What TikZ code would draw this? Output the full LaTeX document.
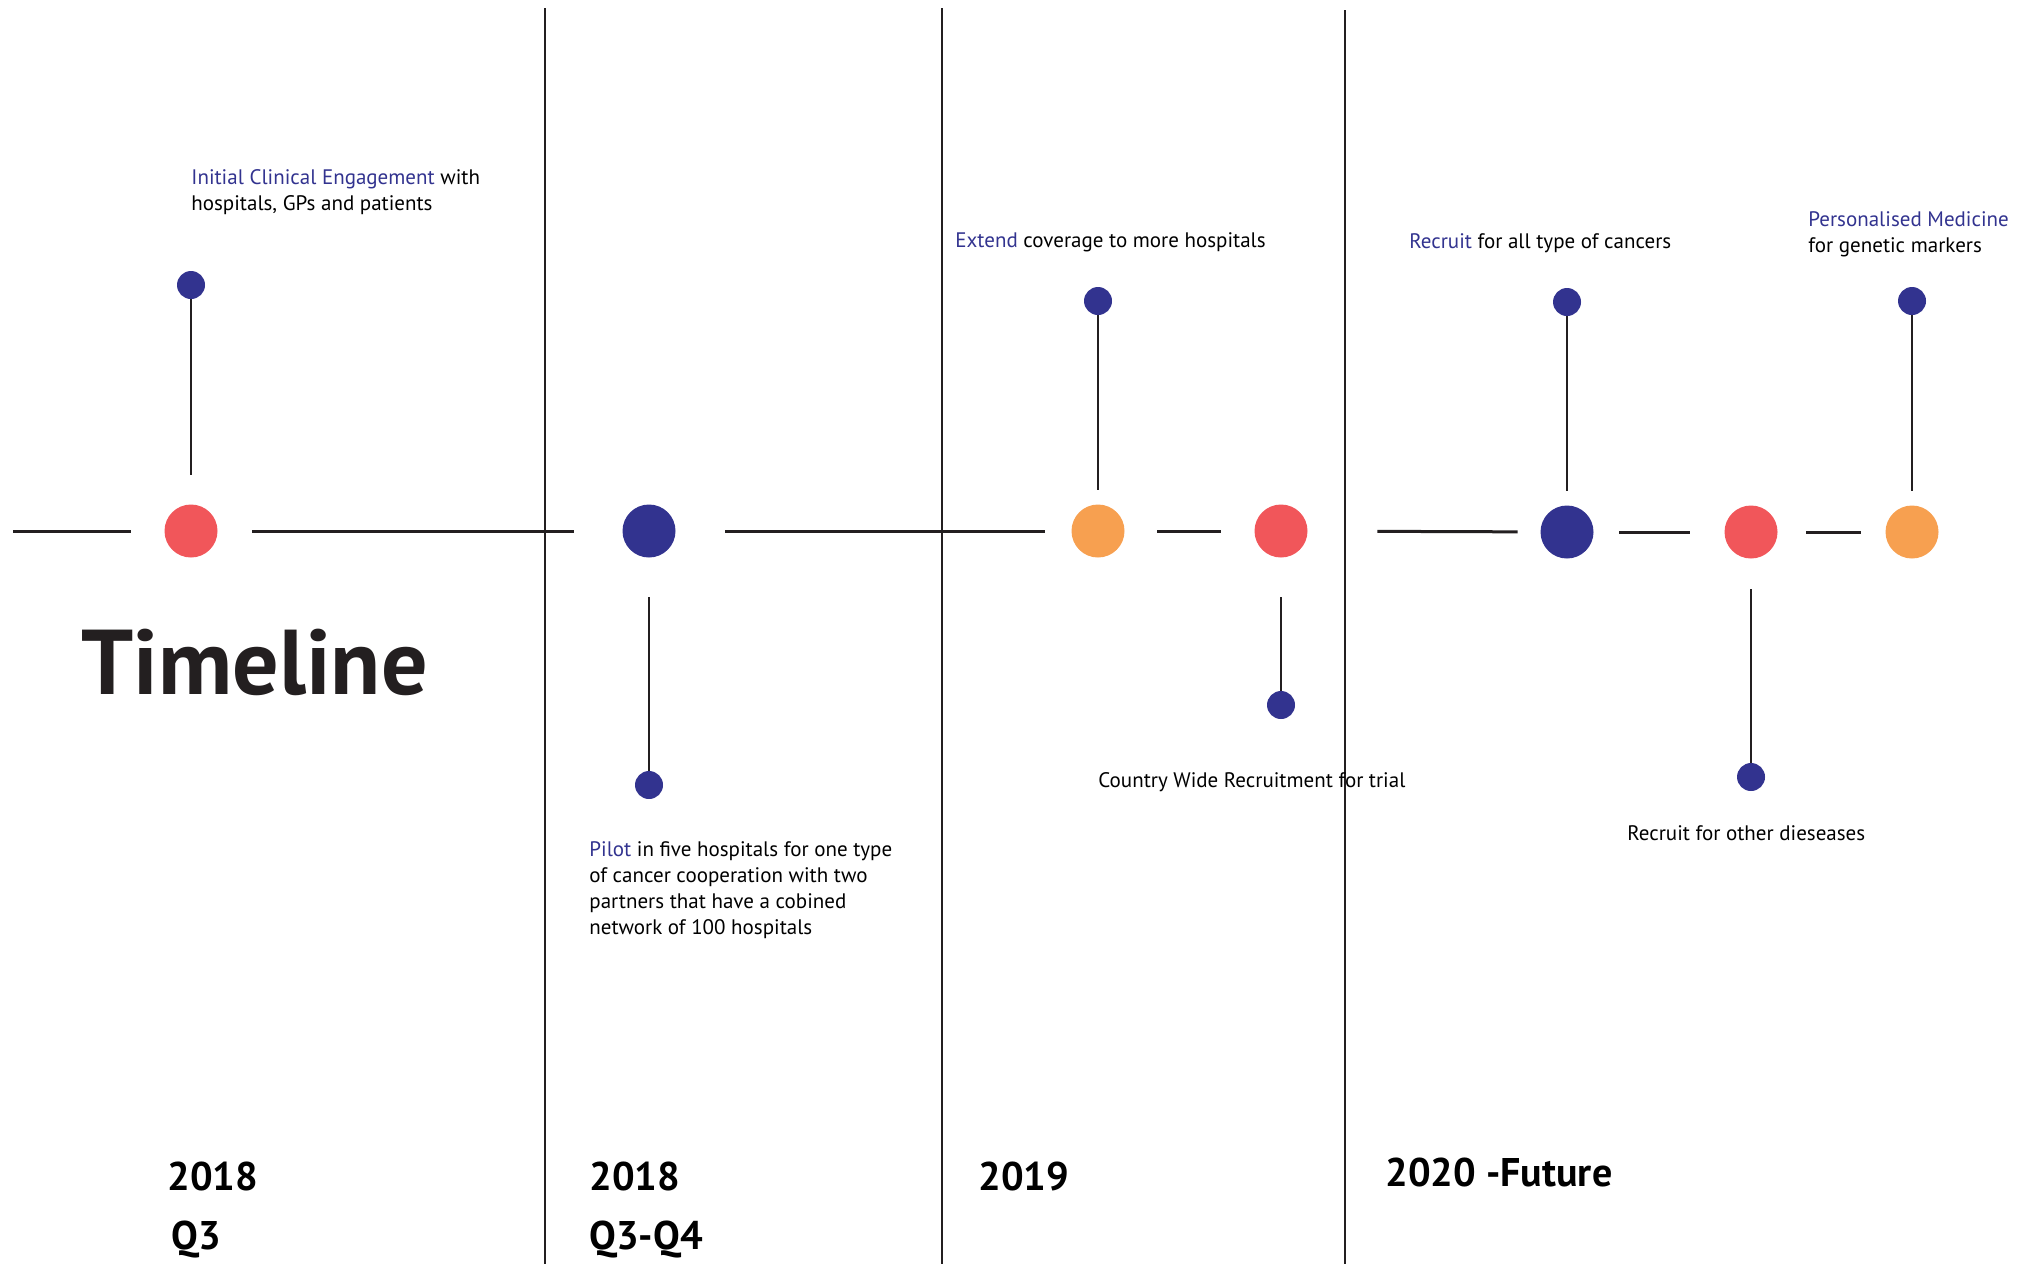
\documentclass[tikz,border=0pt]{standalone}
\usepackage{fontspec}
\setmainfont{PT Sans}
\usepackage{tikz}
\definecolor{tlblue}{RGB}{50,51,143}
\definecolor{tlred}{RGB}{241,86,90}
\definecolor{tlorange}{RGB}{247,160,80}
\definecolor{tlline}{RGB}{35,31,32}

\begin{document}
\begin{tikzpicture}[x=0.5pt, y=-0.5pt,
    main/.style={circle, inner sep=0pt, minimum size=26.5pt},
    dot/.style={circle, inner sep=0pt, minimum size=14pt, fill=tlblue},
    txt/.style={anchor=base west, inner sep=0pt, align=left, font=\fontsize{10.5}{13}\selectfont},
    year/.style={anchor=base west, inner sep=0pt, font=\fontsize{20}{24}\selectfont\bfseries},
    link/.style={draw=tlline, line width=1.5pt},
    stem/.style={draw=tlline, line width=1pt}]
  \useasboundingbox (0,0) rectangle (2027,1264);
  \draw [tlline, line width=1.3pt] (545,8) -- (545,1264);
  \draw [tlline, line width=1.3pt] (942,8) -- (942,1264);
  \draw [tlline, line width=1.3pt] (1345,10) -- (1345,1264);
  \coordinate (s) at (13,531);
  \node [main, fill=tlred] (m1) at (191,531) {};
  \node [main, fill=tlblue] (m2) at (649,531) {};
  \node [main, fill=tlorange] (m3) at (1098,531) {};
  \node [main, fill=tlred] (m4) at (1281,531) {};
  \node [main, fill=tlblue] (m5) at (1567,532) {};
  \node [main, fill=tlred] (m6) at (1751,532) {};
  \node [main, fill=tlorange] (m7) at (1912,532) {};
  \node [dot] (d1) at (191,285) {};
  \node [dot] (d2) at (649,785) {};
  \node [dot] (d3) at (1098,301) {};
  \node [dot] (d4) at (1281,705) {};
  \node [dot] (d5) at (1567,302) {};
  \node [dot] (d6) at (1751,777) {};
  \node [dot] (d7) at (1912,301) {};
  \draw [link, shorten >=16.75pt] (s) -- (m1);
  \draw [link, shorten <=17.25pt, shorten >=24.25pt] (m1) -- (m2);
  \draw [link, shorten <=24.75pt, shorten >=13.25pt] (m2) -- (m3);
  \draw [link, shorten <=16.25pt, shorten >=16.75pt] (m3) -- (m4);
  \draw [link, shorten <=34.75pt, shorten >=11.25pt] (m4) -- (m5);
  \draw [link, shorten <=12.75pt, shorten >=17.25pt] (m5) -- (m6);
  \draw [link, shorten <=14.25pt, shorten >=12.25pt] (m6) -- (m7);
  \draw [stem, shorten >=14.75pt] (d1) -- (m1);
  \draw [stem, shorten >=19.75pt] (d2) -- (m2);
  \draw [stem, shorten >=7.25pt] (d3) -- (m3);
  \draw [stem, shorten >=19.75pt] (d4) -- (m4);
  \draw [stem, shorten >=7.25pt] (d5) -- (m5);
  \draw [stem, shorten >=15.25pt] (d6) -- (m6);
  \draw [stem, shorten >=7.25pt] (d7) -- (m7);
  % multi-line nodes sit on their last baseline
  \node [txt] (t1) at (191,210) {\textcolor{tlblue}{Initial Clinical Engagement} with\\hospitals, GPs and patients};
  \node [txt] (t2) at (589,934) {\textcolor{tlblue}{Pilot} in five hospitals for one type\\of cancer cooperation with two\\partners that have a cobined\\network of 100 hospitals};
  \node [txt] (t3) at (955,247) {\textcolor{tlblue}{Extend} coverage to more hospitals};
  \node [txt] (t4) at (1098,787) {Country Wide Recruitment for trial};
  \node [txt] (t5) at (1409,248) {\textcolor{tlblue}{Recruit} for all type of cancers};
  \node [txt] (t6) at (1627,840) {Recruit for other dieseases};
  \node [txt] (t7) at (1808,252) {\textcolor{tlblue}{Personalised Medicine}\\for genetic markers};
  \node [anchor=base west, inner sep=0pt, font=\fontsize{46}{52}\selectfont\bfseries, text=tlline] (title) at (81,694) {Timeline};
  \node [year] (y1) at (167,1190) {2018};
  \node [year] (q1) at (171,1249) {Q3};
  \node [year] (y2) at (589,1190) {2018};
  \node [year] (q2) at (589,1249) {Q3-Q4};
  \node [year] (y3) at (978,1190) {2019};
  \node [year] (y4) at (1385,1186) {2020 -Future};
\end{tikzpicture}
\end{document}
